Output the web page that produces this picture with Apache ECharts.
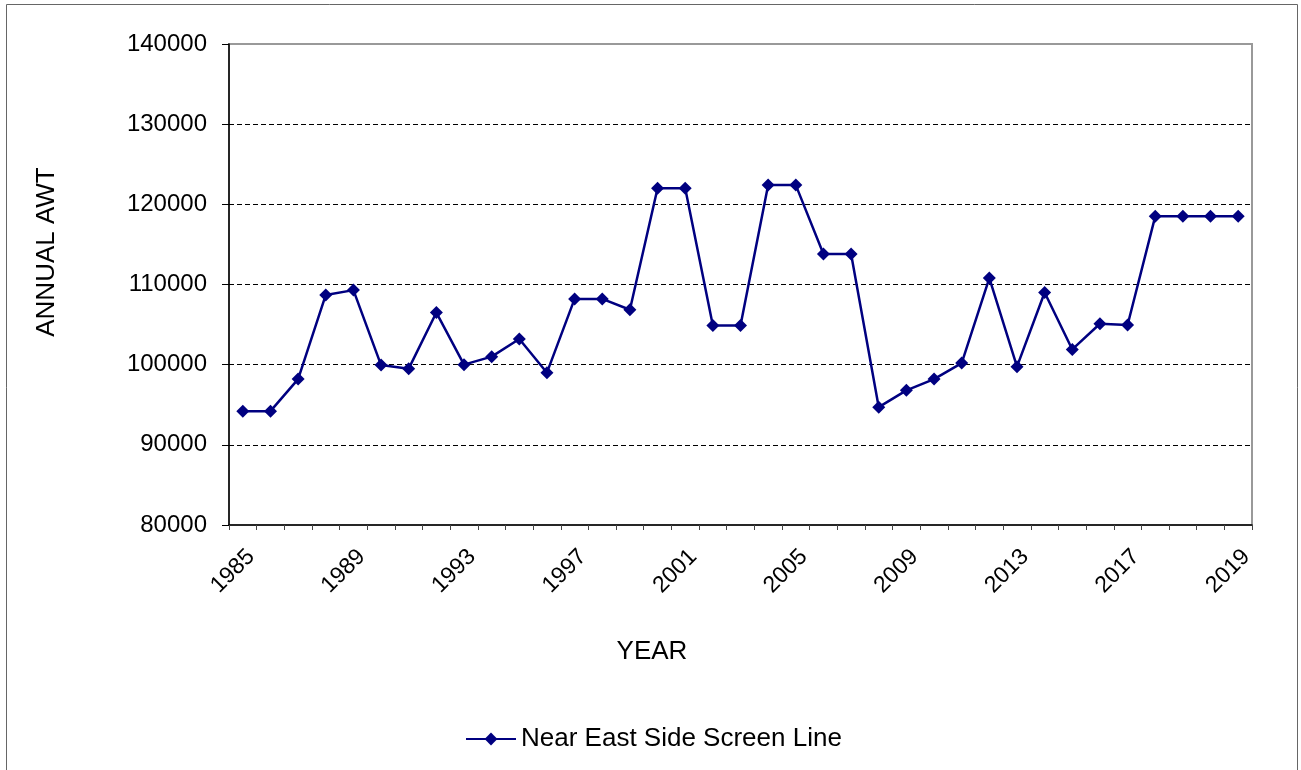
<!DOCTYPE html>
<html>
<head>
<meta charset="utf-8">
<script src="https://cdn.jsdelivr.net/npm/echarts@6/dist/echarts.min.js"></script>
<style>
  html, body { margin: 0; padding: 0; background: #fff; }
  #chart { width: 1301px; height: 770px; }
</style>
</head>
<body>
<div id="chart"></div>
<script>
// categories (the last few years repeat in the source sheet)
var years = [
  '1985', '1986', '1987', '1988', '1989', '1990', '1991', '1992', '1993',
  '1994', '1995', '1996', '1997', '1998', '1999', '2000', '2001', '2002',
  '2003', '2004', '2005', '2006', '2007', '2008', '2009', '2010', '2011',
  '2012', '2013', '2014', '2015', '2016', '2017', '2018', '2018', '2019', '2019'
];

// annual AWT values
var screenLine = [
  94200, 94200, 98200, 108700, 109300, 99950, 99500, 106500, 100000,
  101000, 103200, 99000, 108200, 108200, 106850, 122000, 122000, 104900,
  104900, 122400, 122400, 113800, 113800, 94700, 96800, 98200, 100200,
  110800, 99750, 109000, 101900, 105100, 104950, 118500, 118500, 118500, 118500
];

var seriesName = 'Near East Side Screen Line';
var yTitle = 'ANNUAL AWT';
var xTitle = 'YEAR';

var font = 'Liberation Sans, Arial, sans-serif';
var myChart = echarts.init(document.getElementById('chart'));

var option = {
  backgroundColor: '#fff',
  animation: false,
  grid: {
    left: 229,
    right: 49,
    top: 44,
    bottom: 245,
    show: true,
    borderColor: '#999',
    borderWidth: 2
  },
  legend: {
    data: [seriesName],
    left: 465,
    top: 726,
    padding: 0,
    itemWidth: 50,
    itemHeight: 16,
    itemGap: 5,
    textStyle: { fontFamily: font, fontSize: 26, color: '#000' }
  },
  xAxis: {
    type: 'category',
    data: years,
    boundaryGap: true,
    axisLine: { lineStyle: { color: '#000', width: 1.5 } },
    axisTick: { show: true, length: 5, interval: 0, lineStyle: { color: '#444' } },
    axisLabel: {
      interval: 3,
      rotate: 45,
      margin: 20,
      align: 'right',
      verticalAlign: 'top',
      fontFamily: font,
      fontSize: 23,
      color: '#000'
    },
    splitLine: { show: false }
  },
  yAxis: {
    type: 'value',
    min: 80000,
    max: 140000,
    interval: 10000,
    axisLine: { show: true, lineStyle: { color: '#000', width: 1.5 } },
    axisTick: { show: true, length: 7, lineStyle: { color: '#000' } },
    axisLabel: {
      margin: 22,
      fontFamily: font,
      fontSize: 24,
      color: '#000',
      formatter: function (v) { return String(v); }
    },
    splitLine: {
      show: true,
      showMinLine: false,
      showMaxLine: false,
      lineStyle: { color: '#000', width: 1, type: [5, 3] }
    }
  },
  series: [{
    name: seriesName,
    type: 'line',
    data: screenLine,
    symbol: 'diamond',
    symbolSize: 13,
    color: '#000080',
    lineStyle: { color: '#000080', width: 2.5 },
    itemStyle: { color: '#000080' }
  }],
  graphic: [
    {
      type: 'rect',
      shape: { x: 6.5, y: 4.5, width: 1291, height: 800 },
      style: { fill: 'none', stroke: '#666', lineWidth: 1 },
      silent: true
    },
    {
      type: 'text',
      x: 47,
      y: 252,
      rotation: Math.PI / 2,
      style: {
        text: yTitle, fontFamily: font, fontSize: 26, fill: '#000',
        align: 'center', verticalAlign: 'middle'
      }
    },
    {
      type: 'text',
      x: 652,
      y: 652,
      style: {
        text: xTitle, fontFamily: font, fontSize: 26, fill: '#000',
        align: 'center', verticalAlign: 'middle'
      }
    }
  ]
};

myChart.setOption(option);
</script>
</body>
</html>
